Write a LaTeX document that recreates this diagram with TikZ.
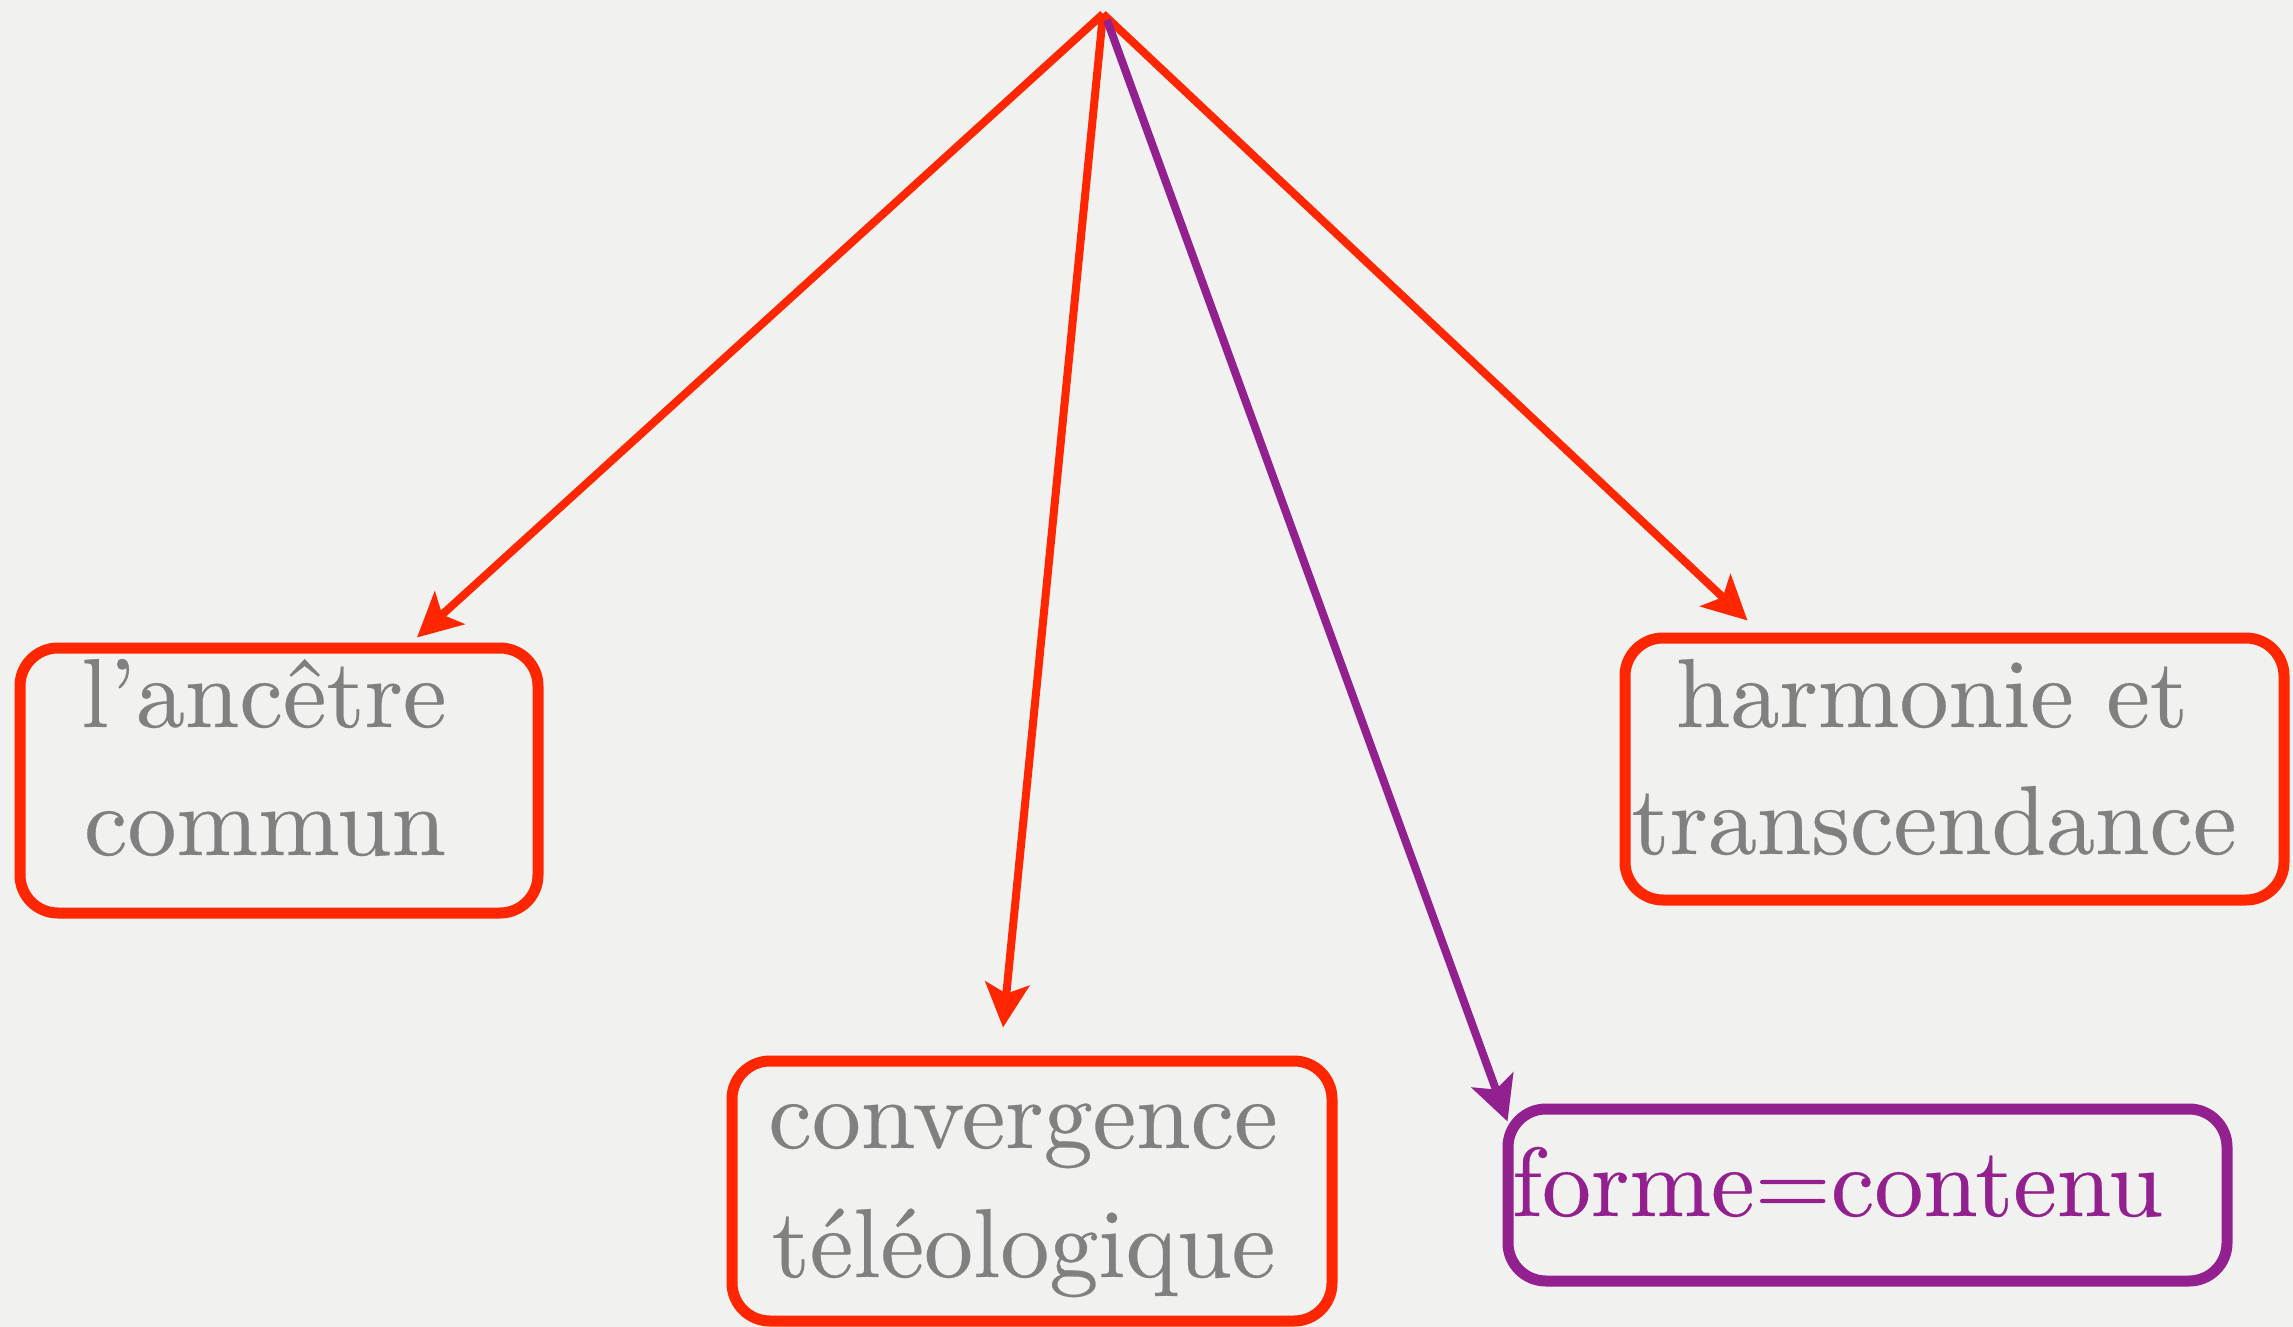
\documentclass[tikz,border=0pt]{standalone}
\usepackage{fontspec}
\setmainfont{lmroman10-regular.otf}[FakeBold=0.3]
\usetikzlibrary{arrows.meta,calc}
\definecolor{bg}{RGB}{241,241,239}
\definecolor{boxred}{RGB}{255,38,0}
\definecolor{plum}{RGB}{147,32,143}
\definecolor{txtgray}{RGB}{128,128,128}
\tikzset{
  box/.style={draw=#1, rectangle, rounded corners=19pt, line width=5.5pt, inner sep=0pt},
  lbl/.style={text=#1, font=\fontsize{49}{64}\selectfont, inner sep=0pt, anchor=base},
  arr/.style={draw=#1, line width=4pt, -{Stealth[length=22pt,width=22pt,inset=5pt]}}
}
\begin{document}
\begin{tikzpicture}[x=0.5pt,y=-0.5pt]
\useasboundingbox (0,0) rectangle (2293,1327);
\fill[bg] (0,0) rectangle (2293,1327);

% boxes
\node[box=boxred, minimum width=259pt, minimum height=132.5pt] (b1) at (279,780.5) {};
\node[box=boxred, minimum width=329.5pt, minimum height=131pt] (b2) at (1954.5,769) {};
\node[box=boxred, minimum width=300pt, minimum height=130pt] (b3) at (1032,1191) {};
\node[box=plum, minimum width=359.5pt, minimum height=86pt] (b4) at (1867.5,1195) {};

% texts
\node[lbl=txtgray] (t1a) at ($(b1.center)+(-15,-53.5)$) {l’ancêtre};
\node[lbl=txtgray] (t1b) at ($(b1.center)+(-14,74.5)$) {commun};
\node[lbl=txtgray] (t2a) at ($(b2.center)+(-22.5,-42)$) {harmonie et};
\node[lbl=txtgray] (t2b) at ($(b2.center)+(-20.5,85)$) {transcendance};
\node[lbl=txtgray] (t3a) at ($(b3.center)+(-9,-43)$) {convergence};
\node[lbl=txtgray] (t3b) at ($(b3.center)+(-8.5,86)$) {téléologique};
\node[lbl=plum] (t4) at ($(b4.center)+(-30,21)$) {forme=contenu};

% connectors
\coordinate (apex) at (1103,14);
\coordinate (apexp) at (1107,20);
\draw[arr=boxred] (apex) -- ($(b1.north)+(138,-5)$);
\draw[arr=boxred] (apex) -- ($(b2.north west)+(128,-12)$);
\draw[arr=boxred] (apex) -- ($(b3.north)+(-29,-28)$);
\draw[arr=plum] (apexp) -- ($(b4.north west)+(5,18)$);
\end{tikzpicture}
\end{document}
